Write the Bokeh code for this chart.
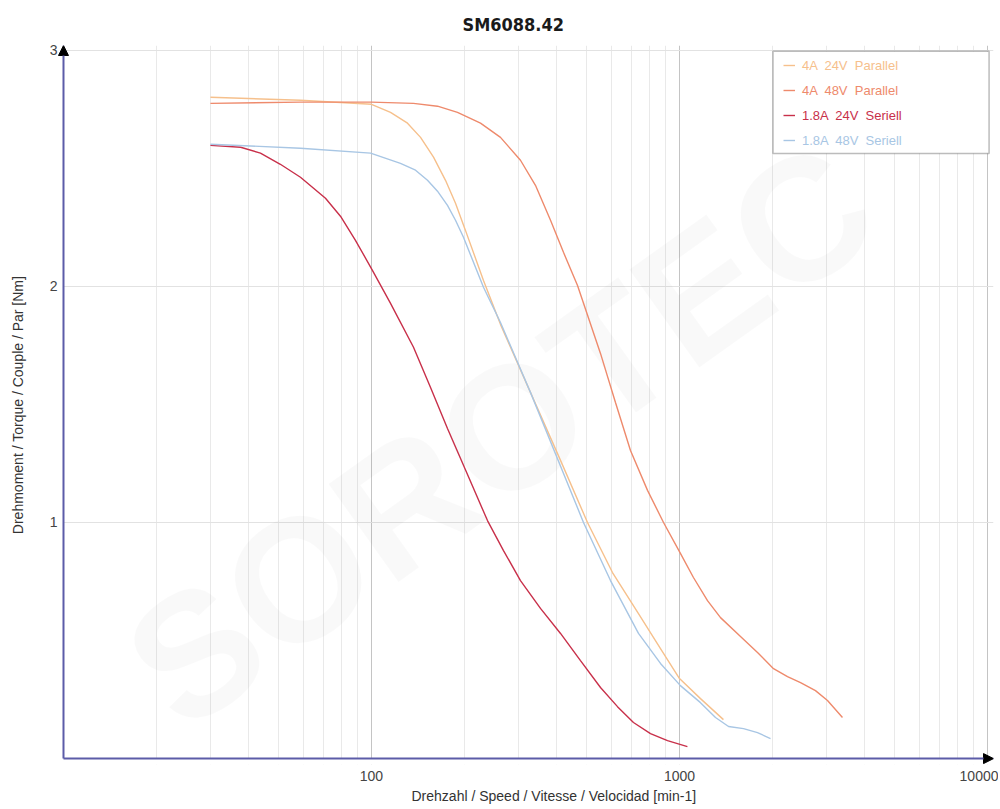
from bokeh.plotting import figure
from bokeh.models import (Range1d, FixedTicker, NumeralTickFormatter, Legend, LegendItem,
                          Title, Arrow, NormalHead, BoxAnnotation)
from bokeh.embed import file_html
from bokeh.resources import INLINE

# ---------------- data ----------------
title_text = "SM6088.42"
x_label = "Drehzahl / Speed / Vitesse / Velocidad [min-1]"
y_label = "Drehmoment / Torque / Couple / Par [Nm]"

x_ticks = [100, 1000, 10000]
x_minor = [20, 30, 40, 50, 60, 70, 80, 90,
           200, 300, 400, 500, 600, 700, 800, 900,
           2000, 3000, 4000, 5000, 6000, 7000, 8000, 9000]
y_ticks = [1, 2, 3]

names = ["4A  24V  Parallel", "4A  48V  Parallel", "1.8A  24V  Seriell", "1.8A  48V  Seriell"]
colors = ["#f6c08c", "#ee8a6c", "#c8304a", "#a8c6e4"]

speed_4a_24v = [30, 58.8, 100, 115.3, 130.9, 144.3, 159, 173.9, 187.4, 201.9, 231, 262.3, 328.2,
                410.9, 502.7, 606, 736, 867.6, 1000, 1170, 1389]
torque_4a_24v = [2.801, 2.788, 2.771, 2.737, 2.691, 2.631, 2.547, 2.449, 2.352, 2.237, 2.025, 1.839, 1.551,
                 1.263, 1.000, 0.788, 0.614, 0.466, 0.339, 0.254, 0.165]

speed_4a_48v = [30, 58.8, 100, 136.9, 163.8, 190.2, 225.9, 262.3, 304.6, 340.7, 381.3, 420.1, 466.6,
                554, 619.7, 693.3, 787.4, 887.5, 1007, 1110, 1233, 1359, 1578, 1792, 2020, 2242,
                2472, 2764, 3024, 3382]
torque_4a_48v = [2.775, 2.780, 2.780, 2.775, 2.763, 2.737, 2.691, 2.631, 2.534, 2.428, 2.280, 2.144, 2.004,
                 1.716, 1.508, 1.305, 1.136, 1.000, 0.869, 0.767, 0.669, 0.597, 0.517, 0.449, 0.381, 0.347,
                 0.322, 0.288, 0.246, 0.174]

speed_18a_24v = [30, 37.6, 43.6, 50.6, 58.8, 70.9, 79.3, 88.7, 100.7, 115.3, 136.9, 155.5, 176.5, 205,
                 238, 268.3, 304.6, 353.7, 410.9, 477.1, 554, 629.1, 708.9, 805.1, 914.3, 1061]
torque_18a_24v = [2.597, 2.589, 2.564, 2.517, 2.462, 2.373, 2.297, 2.195, 2.068, 1.928, 1.742, 1.572,
                  1.398, 1.203, 1.008, 0.881, 0.754, 0.636, 0.530, 0.415, 0.301, 0.220, 0.153, 0.106,
                  0.076, 0.051]

speed_18a_48v = [30, 58.8, 99.3, 124.2, 139, 152, 163.8, 176.5, 187.4, 198.9, 231, 262.3, 328.2, 487.9,
                 597, 736, 867.6, 1007, 1170, 1309, 1443, 1614, 1792, 1975]
torque_18a_48v = [2.602, 2.585, 2.564, 2.521, 2.492, 2.449, 2.403, 2.343, 2.280, 2.208, 1.996, 1.847,
                  1.551, 1.000, 0.754, 0.530, 0.403, 0.309, 0.237, 0.174, 0.136, 0.127, 0.110, 0.085]

series_x = [speed_4a_24v, speed_4a_48v, speed_18a_24v, speed_18a_48v]
series_y = [torque_4a_24v, torque_4a_48v, torque_18a_24v, torque_18a_48v]

# ---------------- figure ----------------
FONT = "Liberation Sans"
AXIS_COLOR = "#5c5ca8"
X_START, X_END = 9.42, 10460      # a little room left of the axis for the arrow head
Y_START, Y_END = -0.025, 3.02

p = figure(frame_width=938, frame_height=719, x_axis_type="log",
           x_range=Range1d(X_START, X_END), y_range=Range1d(Y_START, Y_END),
           toolbar_location=None, output_backend="svg",
           min_border_left=55, min_border_right=5, min_border_top=45, min_border_bottom=0)
p.outline_line_color = None
p.background_fill_color = "white"

# title
p.title.text = title_text
p.title.align = "left"
p.title.vertical_align = "top"
p.title.offset = 407
p.title.standoff = 18
p.title.text_font = "'DejaVu Sans Condensed', 'DejaVu Sans', sans-serif"
p.title.text_font_size = "18px"
p.title.text_font_style = "bold"
p.title.text_color = "#1a1a1a"

# x axis (labels only, the line is drawn by an arrow)
xa = p.xaxis[0]
xa.ticker = FixedTicker(ticks=x_ticks)
xa.formatter = NumeralTickFormatter(format="0")
xa.major_tick_line_color = None
xa.minor_tick_line_color = None
xa.major_tick_out = 0
xa.major_tick_in = 0
xa.minor_tick_out = 0
xa.minor_tick_in = 0
xa.axis_line_color = None
xa.major_label_text_font = FONT
xa.major_label_text_font_size = "14px"
xa.major_label_text_color = "#444444"
xa.major_label_standoff = 6

# y axis
ya = p.yaxis[0]
ya.ticker = FixedTicker(ticks=y_ticks)
ya.major_tick_line_color = None
ya.minor_tick_line_color = None
ya.major_tick_out = 0
ya.major_tick_in = 0
ya.minor_tick_out = 0
ya.minor_tick_in = 0
ya.axis_line_color = None
ya.major_label_text_font = FONT
ya.major_label_text_font_size = "14px"
ya.major_label_text_color = "#444444"
ya.major_label_standoff = -2
ya.axis_label = y_label
ya.axis_label_text_font = FONT
ya.axis_label_text_font_size = "14px"
ya.axis_label_text_font_style = "normal"
ya.axis_label_text_color = "#333333"
ya.axis_label_standoff = 21

# grids
p.xgrid.ticker = FixedTicker(ticks=x_ticks, minor_ticks=x_minor)
p.xgrid.grid_line_color = "#c4c4c4"
p.xgrid.grid_line_width = 1
p.xgrid.minor_grid_line_color = "#e9e9e9"
p.xgrid.minor_grid_line_width = 1
p.ygrid.ticker = FixedTicker(ticks=y_ticks)
p.ygrid.grid_line_color = "#e2e2e2"

# hide grid stubs outside the axes
p.add_layout(BoxAnnotation(top=0, fill_color="white", fill_alpha=1.0, line_alpha=0, level="underlay"))
p.add_layout(BoxAnnotation(right=10, fill_color="white", fill_alpha=1.0, line_alpha=0, level="underlay"))

# x axis label as a positioned title below
p.add_layout(Title(text=x_label, align="left", offset=356, standoff=4,
                   text_font=FONT, text_font_size="14px", text_font_style="normal",
                   text_color="#333333"), "below")

# watermark
p.text(x=[262], y=[1.37], text=["SOROTEC"], angle=0.62, text_align="center",
       text_baseline="middle", text_font_size="175px", text_font_style="bold",
       text_color="#000000", text_alpha=0.025)

# curves
renderers = []
for xs, ys, c in zip(series_x, series_y, colors):
    renderers.append(p.line(xs, ys, line_color=c, line_width=1.4))

# axis lines with arrowheads
p.add_layout(Arrow(end=NormalHead(size=10, fill_color="black", line_color="black"),
                   x_start=10, y_start=0, x_end=10, y_end=Y_END,
                   line_color=AXIS_COLOR, line_width=2))
p.add_layout(Arrow(end=NormalHead(size=10, fill_color="black", line_color="black"),
                   x_start=10, y_start=0, x_end=X_END, y_end=0,
                   line_color=AXIS_COLOR, line_width=2))

# legend box
p.add_layout(BoxAnnotation(left=2012, right=10120, top=2.996, bottom=2.563,
                           fill_color="white", fill_alpha=1.0,
                           line_color="#222222", line_width=1.5))

# one legend per entry so each label has its own colour
for i, (name, r, c) in enumerate(zip(names, renderers, colors)):
    lg = Legend(items=[LegendItem(label=name, renderers=[r])],
                location=(728, 691 - 25 * i),
                border_line_color=None, background_fill_alpha=0,
                padding=0, margin=0, spacing=0,
                glyph_width=12, glyph_height=16, label_height=16,
                label_standoff=7, label_text_font=FONT,
                label_text_font_size="13px", label_text_color=c)
    p.add_layout(lg, "center")

open("out.html", "w").write(file_html(p, INLINE))
